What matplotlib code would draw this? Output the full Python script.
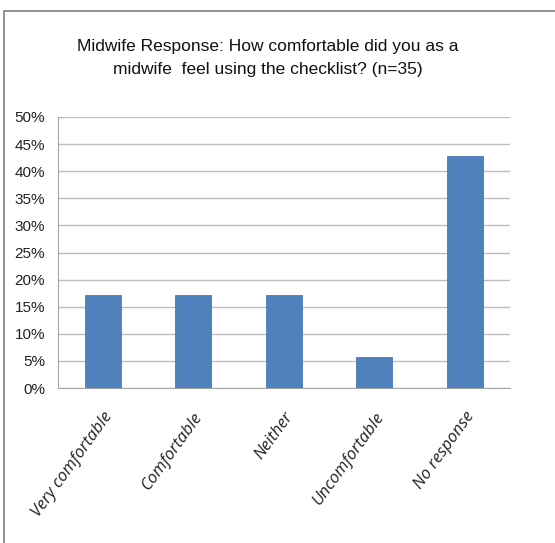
import matplotlib.pyplot as plt
from matplotlib.patches import Rectangle
from matplotlib.ticker import PercentFormatter
import numpy as np

categories = ["Very comfortable", "Comfortable", "Neither", "Uncomfortable", "No response"]
counts = [6, 6, 6, 2, 15]
n_total = 35
shares = [c / n_total * 100 for c in counts]
y_ticks = [0, 5, 10, 15, 20, 25, 30, 35, 40, 45, 50]

sans = ["Liberation Sans", "DejaVu Sans"]

W, H = 555, 543
fig = plt.figure(figsize=(W / 100, H / 100), dpi=100)
ax = fig.add_axes([57.5 / W, 1 - 388 / H, (510 - 57.5) / W, (388 - 117) / H])

x = np.arange(len(categories))
ax.bar(x, shares, width=0.4, color="#4f81bd", edgecolor="#4a7ab4", linewidth=0.6, zorder=3)

ax.set_xlim(-0.5, len(categories) - 0.5)
ax.set_ylim(0, 50)
ax.set_yticks(y_ticks)
ax.yaxis.set_major_formatter(PercentFormatter(decimals=0))
for lbl in ax.get_yticklabels():
    lbl.set_family(sans)
    lbl.set_fontsize(11)
ax.tick_params(axis="y", length=0, pad=9, colors="#222222")
ax.grid(axis="y", color="#bdbdbd", linewidth=1.0, zorder=0)

ax.set_xticks(x)
ax.set_xticklabels(categories, rotation=54, ha="right", rotation_mode="anchor",
                   fontstyle="italic", fontsize=12, family=["Open Sans", "DejaVu Sans"])
ax.tick_params(axis="x", length=0, pad=15, colors="#222222")

for side in ["top", "right"]:
    ax.spines[side].set_visible(False)
ax.spines["left"].set_color("#a6a6a6")
ax.spines["bottom"].set_color("#a6a6a6")

fig.text(268 / W, 1 - 58 / H,
         "Midwife Response: How comfortable did you as a\nmidwife  feel using the checklist? (n=35)",
         ha="center", va="center", fontsize=12.5, family=sans, linespacing=1.6, color="#111111")

fig.patches.append(Rectangle((4 / W, -0.01), 1.0, 1 - 11 / H + 0.01, transform=fig.transFigure,
                             fill=False, edgecolor="#7f7f7f", linewidth=1.2))

fig.savefig("out.png", dpi=100)
